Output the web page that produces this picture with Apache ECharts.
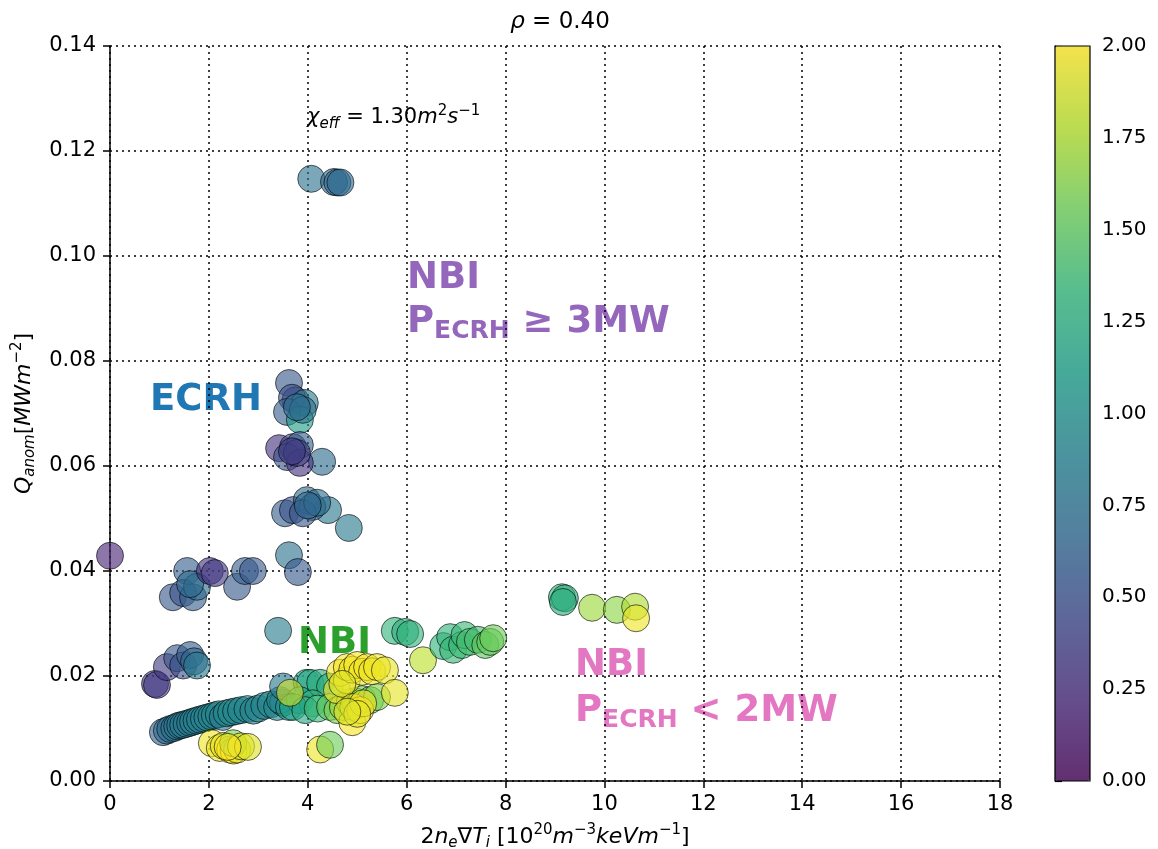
<!DOCTYPE html>
<html>
<head>
<meta charset="utf-8">
<script src="https://cdn.jsdelivr.net/npm/echarts@6/dist/echarts.min.js"></script>
<style>
  html, body { margin: 0; padding: 0; background: #fff; }
  #chart { width: 1158px; height: 849px; }
</style>
</head>
<body>
<div id="chart"></div>
<script>
// each point: [2 n_e grad T_i, Q_anom, colour value]
var topGroup = [[4.07,0.1147,0.75],[4.53,0.1141,0.68],[4.60,0.1140,0.65],[4.66,0.1140,0.70]];
var ecrhUpper = [[3.62,0.0758,0.55],[3.75,0.0725,0.45],[3.68,0.0730,0.50],[3.94,0.0720,0.80],
                 [3.58,0.0703,0.60],[3.84,0.0688,1.10],[3.90,0.0707,0.75],[3.78,0.0712,0.70]];
var ecrhMid = [[3.42,0.0634,0.30],[4.29,0.0608,0.70],[3.70,0.0636,0.45],[3.84,0.0640,0.60],
               [3.58,0.0617,0.50],[3.84,0.0606,0.30],[3.78,0.0625,0.40],[3.68,0.0628,0.35]];
var ecrhLow = [[3.54,0.0510,0.60],[4.83,0.0482,0.80],[4.41,0.0516,0.80],[3.70,0.0516,0.50],
               [3.98,0.0535,0.70],[4.09,0.0522,0.75],[3.90,0.0510,0.55],[4.19,0.0530,0.70],[4.00,0.0525,0.65]];
var midLeft = [[0.00,0.0429,0.20],[3.62,0.0430,0.75],[3.80,0.0398,0.55],
               [1.56,0.0400,0.60],[1.27,0.0350,0.55],[1.48,0.0358,0.50],[1.68,0.0350,0.60],
               [1.76,0.0370,0.70],[1.62,0.0375,0.70],[2.02,0.0400,0.30],[2.12,0.0396,0.35],
               [2.57,0.0370,0.55],[2.73,0.0400,0.60],[2.89,0.0400,0.55]];
var lowLeft = [[0.91,0.0185,0.30],[0.95,0.0183,0.35],[1.15,0.0217,0.35],[1.36,0.0234,0.55],
               [1.48,0.0220,0.50],[1.62,0.0240,0.60],[1.70,0.0228,0.65],[1.76,0.0220,0.80],[3.40,0.0286,0.85]];
var band = [[1.07,0.0093,0.62],[1.15,0.0096,0.68],[1.22,0.0099,0.72],[1.30,0.0101,0.76],[1.36,0.0104,0.78],
            [1.42,0.0106,0.80],[1.48,0.0107,0.82],[1.55,0.0109,0.83],[1.62,0.0111,0.84],[1.68,0.0113,0.85],
            [1.75,0.0115,0.86],[1.82,0.0117,0.88],[1.90,0.0119,0.90],[1.97,0.0121,0.90],[2.05,0.0123,0.92],
            [2.12,0.0125,0.93],[2.20,0.0127,0.93],[2.28,0.0122,0.80],[2.36,0.0129,0.95],[2.45,0.0131,0.95],
            [2.55,0.0133,0.94],[2.65,0.0135,0.92],[2.78,0.0137,0.92],[2.90,0.0134,0.90],[3.00,0.0138,0.92],
            [3.12,0.0143,0.90],[3.25,0.0146,0.92],[3.38,0.0141,0.92],[3.50,0.0149,0.95],[3.44,0.0154,0.90],
            [3.62,0.0141,1.05],[3.50,0.0180,0.80]];
var yellowLow = [[2.06,0.0072,1.95],[2.22,0.0063,1.97],[2.30,0.0067,1.90],[2.43,0.0060,1.98],[2.50,0.0058,1.96],
                 [2.57,0.0060,1.94],[2.49,0.0072,1.60],[2.65,0.0066,1.92],[2.79,0.0065,1.90],[2.38,0.0065,2.00]];
var nbiMid = [[3.98,0.0187,1.10],[4.05,0.0187,1.20],[4.25,0.0187,1.25],[4.45,0.0180,1.25],[3.84,0.0154,1.15],
              [4.10,0.0148,1.30],[3.70,0.0141,1.15],[3.95,0.0135,1.20],[4.20,0.0138,1.35],[4.45,0.0141,1.50],
              [4.60,0.0135,1.60],[4.71,0.0141,1.70],[4.85,0.0150,1.72],[4.95,0.0152,1.60],[5.10,0.0156,1.55],
              [5.26,0.0154,1.50],[5.40,0.0160,1.62],[4.25,0.0060,1.95],[4.45,0.0069,1.55]];
var nbiYellow = [[3.64,0.0168,1.85],[4.59,0.0173,1.95],[4.65,0.0206,1.98],[4.79,0.0192,1.97],[4.79,0.0217,1.98],
                 [4.90,0.0212,1.95],[5.00,0.0221,1.98],[5.10,0.0208,1.96],[5.20,0.0217,1.97],[5.30,0.0209,1.95],
                 [5.40,0.0217,1.96],[5.56,0.0211,1.94],[4.70,0.0185,1.90],[5.76,0.0168,1.93],
                 [4.90,0.0112,1.98],[4.92,0.0141,1.95],[5.06,0.0135,1.97],[5.12,0.0148,1.98],[5.00,0.0128,1.92],[4.80,0.0132,1.90]];
var nbiRight = [[5.76,0.0286,1.30],[5.97,0.0284,1.25],[6.07,0.0280,1.30],[6.33,0.0230,1.80],[6.74,0.0257,1.30],
                [6.88,0.0274,1.30],[6.94,0.0250,1.35],[7.12,0.0259,1.35],[7.17,0.0278,1.35],[7.28,0.0265,1.40],
                [7.44,0.0269,1.40],[7.59,0.0259,1.50],[7.69,0.0265,1.50],[7.75,0.0272,1.55]];
var farRight = [[9.14,0.0350,1.30],[9.20,0.0348,1.28],[9.16,0.0341,1.25],[9.75,0.0330,1.70],
                [10.25,0.0326,1.65],[10.62,0.0332,1.75],[10.64,0.0310,1.95]];

var viridis = ['#440154','#482878','#3e4989','#31688e','#26828e','#1f9e89','#35b779','#6ece58','#b5de2b','#fde725'];

var allPoints = [].concat(topGroup, ecrhUpper, ecrhMid, ecrhLow, midLeft, lowLeft,
                          band, yellowLow, nbiMid, nbiYellow, nbiRight, farRight);

function withAlpha(hex, a) {
    var r = parseInt(hex.substr(1, 2), 16), g = parseInt(hex.substr(3, 2), 16), b = parseInt(hex.substr(5, 2), 16);
    return 'rgba(' + r + ',' + g + ',' + b + ',' + a + ')';
}

var FONT = '"DejaVu Sans", sans-serif';
var myChart = echarts.init(document.getElementById('chart'));

// rich styles for math-like labels
function mathRich(size, colorKey) {
    var c = {};
    c[colorKey] = '#000';
    return {
        n: Object.assign({fontFamily: FONT, fontSize: size, fontWeight: 'normal'}, c),
        i: Object.assign({fontFamily: FONT, fontSize: size, fontStyle: 'italic', fontWeight: 'normal'}, c),
        sub: Object.assign({fontFamily: FONT, fontSize: Math.round(size * 0.7), fontStyle: 'italic', padding: [13, 0, 0, 0]}, c),
        sup: Object.assign({fontFamily: FONT, fontSize: Math.round(size * 0.7), padding: [0, 0, 13, 0]}, c)
    };
}

var option = {
    backgroundColor: '#fff',
    animation: false,
    title: {
        text: '{i|ρ}{n| = 0.40}',
        left: 555, top: 6, textAlign: 'center',
        textStyle: {fontWeight: 'normal', rich: mathRich(23, 'color')}
    },
    grid: [
        {left: 110, top: 46, width: 890, height: 735, show: false, outerBoundsMode: 'none', containLabel: false},
        {left: 1055, top: 46, width: 35, height: 735, show: true, z: 10, outerBoundsMode: 'none', containLabel: false,
         borderColor: '#000', borderWidth: 1.2, backgroundColor: 'transparent'}
    ],
    xAxis: [
        {
            type: 'value', gridIndex: 0, min: 0, max: 18, interval: 2,
            name: '{n|2}{i|n}{sub|e}{n|∇}{i|T}{sub|i}{n| [10}{sup|20}{i|m}{sup|−3}{i|keVm}{sup|−1}{n|]}',
            nameLocation: 'middle', nameGap: 42,
            nameTextStyle: {rich: mathRich(22, 'color')},
            axisLine: {show: true, onZero: false, lineStyle: {color: '#000', width: 1.5}},
            axisTick: {show: true, inside: false, length: 7, lineStyle: {color: '#000', width: 1.5}},
            axisLabel: {fontFamily: FONT, fontSize: 21, color: '#000', margin: 13},
            splitLine: {show: true, lineStyle: {color: '#000', width: 1.5, type: [2, 4]}}
        },
        {type: 'value', gridIndex: 1, min: 0, max: 1, show: false}
    ],
    yAxis: [
        {
            type: 'value', gridIndex: 0, min: 0, max: 0.14, interval: 0.02,
            name: '{i|Q}{sub|anom}{n|[}{i|MWm}{sup|−2}{n|]}',
            nameLocation: 'middle', nameGap: 72, nameRotate: 90,
            nameTextStyle: {rich: mathRich(22, 'color')},
            axisLine: {show: true, onZero: false, lineStyle: {color: '#000', width: 1.5}},
            axisTick: {show: true, inside: false, length: 7, lineStyle: {color: '#000', width: 1.5}},
            axisLabel: {fontFamily: FONT, fontSize: 21, color: '#000', margin: 14,
                        formatter: function (v) { return v.toFixed(2); }},
            splitLine: {show: true, lineStyle: {color: '#000', width: 1.5, type: [2, 4]}}
        },
        {
            type: 'value', gridIndex: 1, min: 0, max: 2, interval: 0.25, position: 'right',
            axisLine: {show: true, lineStyle: {color: '#000', width: 1.2}},
            axisTick: {show: true, inside: false, length: 7, lineStyle: {color: '#000', width: 1.2}},
            axisLabel: {fontFamily: FONT, fontSize: 20, color: '#000', margin: 12,
                        formatter: function (v) { return v.toFixed(2); }},
            splitLine: {show: false}
        }
    ],
    visualMap: {
        type: 'continuous', min: 0, max: 2, dimension: 2, seriesIndex: 0,
        left: 1055, top: 46, itemWidth: 35, itemHeight: 735, padding: 0,
        calculable: false, hoverLink: false, text: null, showLabel: false,
        textStyle: {color: 'transparent'},
        inRange: {color: viridis.map(function (c) { return withAlpha(c, 0.78); })}
    },
    series: [
        {
            type: 'scatter', xAxisIndex: 0, yAxisIndex: 0,
            symbolSize: 27,
            itemStyle: {borderColor: 'rgba(0,0,0,0.75)', borderWidth: 1},
            data: allPoints
        },
        {type: 'scatter', xAxisIndex: 1, yAxisIndex: 1, data: []}
    ],
    graphic: [
        {type: 'text', x: 307, y: 118, style: {
            text: '{i|χ}{sub|eff}{n| = 1.30}{i|m}{sup|2}{i|s}{sup|−1}', verticalAlign: 'middle',
            rich: mathRich(21, 'fill')}},
        {type: 'text', x: 150, y: 400, style: {
            text: 'ECRH', fill: '#1f77b4', font: 'bold 37px ' + FONT, verticalAlign: 'middle'}},
        {type: 'text', x: 298, y: 643, style: {
            text: 'NBI', fill: '#2ca02c', font: 'bold 37px ' + FONT, verticalAlign: 'middle'}},
        {type: 'text', x: 407, y: 278, style: {
            text: 'NBI', fill: '#9467bd', font: 'bold 37px ' + FONT, verticalAlign: 'middle'}},
        {type: 'text', x: 407, y: 322, style: {
            text: '{a|P}{b|ECRH}{a| ≥ 3MW}', verticalAlign: 'middle',
            rich: {
                a: {fontFamily: FONT, fontWeight: 'bold', fontSize: 37, fill: '#9467bd'},
                b: {fontFamily: FONT, fontWeight: 'bold', fontSize: 25, fill: '#9467bd', padding: [18, 0, 0, 0]}
            }}},
        {type: 'text', x: 575, y: 665, style: {
            text: 'NBI', fill: '#e377c2', font: 'bold 37px ' + FONT, verticalAlign: 'middle'}},
        {type: 'text', x: 575, y: 711, style: {
            text: '{a|P}{b|ECRH}{a| < 2MW}', verticalAlign: 'middle',
            rich: {
                a: {fontFamily: FONT, fontWeight: 'bold', fontSize: 37, fill: '#e377c2'},
                b: {fontFamily: FONT, fontWeight: 'bold', fontSize: 25, fill: '#e377c2', padding: [18, 0, 0, 0]}
            }}}
    ]
};
myChart.setOption(option);
</script>
</body>
</html>
